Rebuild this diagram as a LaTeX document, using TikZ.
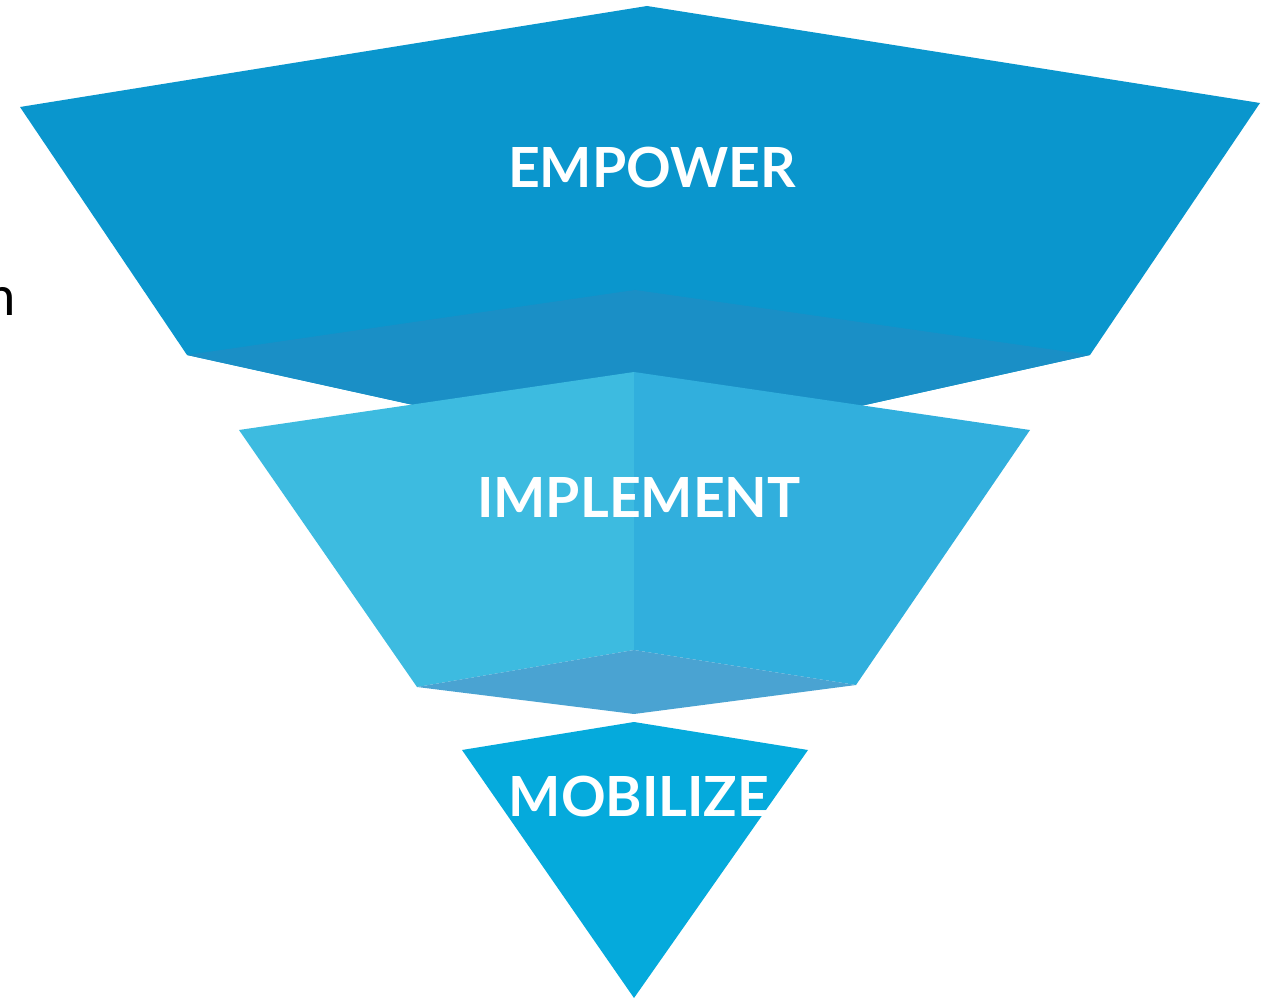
\documentclass[tikz,border=0pt]{standalone}
\usepackage{fontspec}
\setmainfont{Lato}
\usepackage{tikz}

\definecolor{topblue}{HTML}{0A96CD}
\definecolor{topface}{HTML}{1A8FC6}
\definecolor{midleft}{HTML}{3DBBE0}
\definecolor{midright}{HTML}{31AFDD}
\definecolor{midface}{HTML}{4AA3D2}
\definecolor{lowblue}{HTML}{05AADC}

\tikzset{
  stage/.style={text=white, font=\fontsize{31.5}{38}\selectfont\bfseries},
}

\begin{document}
\begin{tikzpicture}[x=0.02cm, y=-0.02cm]
  \useasboundingbox (0,0) rectangle (1264,999);

  % Cut-off letter at the left edge
  \node[anchor=base east, inner sep=0, font=\fontsize{31}{36}\selectfont] (cut) at (16,316) {n};

  % Top section
  \fill[topblue] (647,6) -- (1260,103) -- (1090,355) -- (640,455) -- (187,355) -- (20,107) -- cycle;
  \fill[topface] (187,355) -- (635,290) -- (1090,355) -- (640,455) -- cycle;

  % Middle section (two halves and the underside)
  \fill[midleft] (634,372) -- (634,650) -- (417,687) -- (239,430) -- cycle;
  \fill[midright] (634,372) -- (1030,430) -- (856,685) -- (634,650) -- cycle;
  \fill[midface] (417,687) -- (634,650) -- (856,685) -- (634,714) -- cycle;

  % Bottom section
  \fill[lowblue] (634,722) -- (808,750) -- (634,998) -- (462,750) -- cycle;

  % Labels
  \node[stage] (empower) at (652,167) {EMPOWER};
  \node[stage] (implement) at (639,497) {IMPLEMENT};
  \node[stage] (mobilize) at (639,796) {MOBILIZE};
\end{tikzpicture}
\end{document}
